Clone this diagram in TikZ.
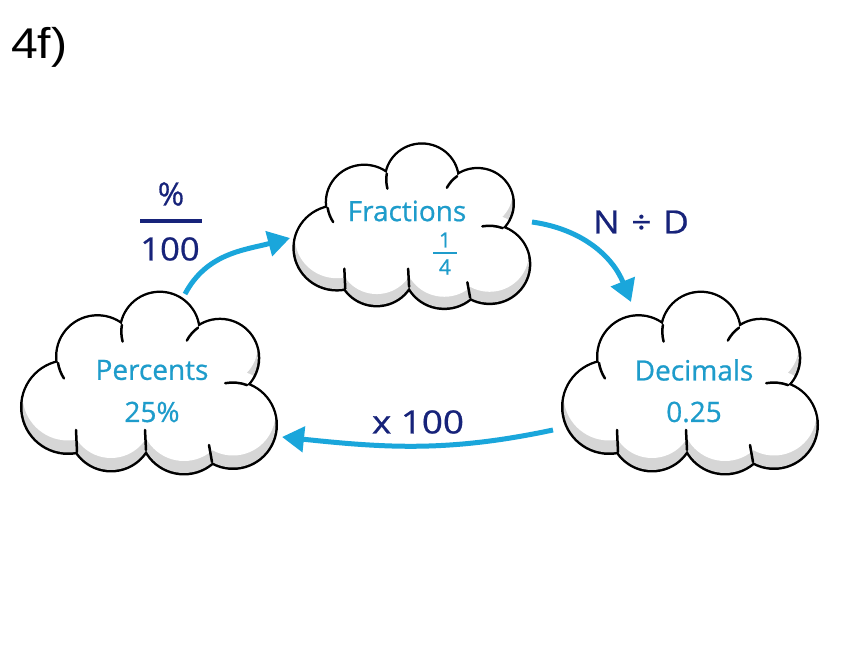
\documentclass[tikz,border=0pt]{standalone}
\usepackage{fontspec}
\setmainfont{Open Sans}
\newfontfamily\heavyfont[FakeBold=0.7]{Open Sans}
\newfontfamily\titlefont{Liberation Sans}
\usetikzlibrary{arrows.meta}
\definecolor{cyantext}{HTML}{1E9CCB}
\definecolor{arrowcyan}{HTML}{1AA6DB}
\definecolor{navy}{HTML}{17237A}
\definecolor{cloudgray}{HTML}{D6D6D6}
\def\cloudcircles{(-79,-22) circle[radius=45.5] (-36,-44) circle[radius=41] (37,-45) circle[radius=43] (86,-40) circle[radius=42.5] (73,27) circle[radius=37.8] (12.8,53.4) circle[radius=38.5] (-49.5,28.4) circle[radius=40]}
\def\cloudunion{\cloudcircles (-89,22) -- (-70,-67) -- (-1,-65) -- (65,-77) -- (100,0) -- (51,57) -- (-25,60) -- cycle}
\newcommand{\drawcloud}[4]{%
  \begin{scope}[shift={(#1,#2)},xscale=#3,yscale=#4]
    \draw[black,line width=5pt] \cloudcircles;
    \fill[cloudgray] \cloudunion;
    \begin{scope}
      \clip \cloudunion;
      \fill[white,yshift=12] \cloudunion;
    \end{scope}
    \draw[cloudline] (-89,22.1) arc[start angle=189,end angle=213,radius=40];
    \draw[cloudline] (-25.1,60.1) arc[start angle=170,end angle=195,radius=38.5];
    \draw[cloudline] (51,57.3) arc[start angle=126,end angle=152,radius=37.8];
    \draw[cloudline] (100.1,-0.1) arc[start angle=70,end angle=100,radius=42.4];
    \draw[cloudline] (65,-77) .. controls (64,-69) .. (62,-60);
    \draw[cloudline] (-1,-65) .. controls (-1,-55) .. (-2,-45);
    \draw[cloudline] (-70,-67) .. controls (-70,-56) .. (-71,-45);
  \end{scope}}
\tikzset{
  cloudline/.style={line width=2.5pt,black,line cap=round},
  cloudtext/.style={text=cyantext,font=\heavyfont\fontsize{28}{30}\selectfont,inner sep=0pt},
  smalltext/.style={text=cyantext,font=\heavyfont\fontsize{21}{22}\selectfont,inner sep=0pt},
  labeltext/.style={text=navy,font=\heavyfont\fontsize{32}{34}\selectfont,inner sep=0pt},
  conv/.style={line width=5pt,arrowcyan,-{Triangle[length=22pt,width=25pt]}},
}
\begin{document}
\begin{tikzpicture}[x=1pt,y=1pt]
\fill[white] (0,0) rectangle (848,660);
\useasboundingbox (0,0) rectangle (848,660);
% title
\node[anchor=west,inner sep=0pt,font=\titlefont\fontsize{43}{46}\selectfont] (title) at (11,613) {\scalebox{1.12}[1]{4f)}};
% clouds
\drawcloud{147}{275}{1}{1}
\drawcloud{688}{275}{1}{1}
\drawcloud{410}{432}{0.925}{0.905}
% cloud texts
\node[cloudtext] (fractions) at (407,449) {Fractions};
\node[smalltext] (fnum) at (445,420) {1};
\node[smalltext] (fden) at (445,393) {4};
\draw[cyantext,line width=1.3pt] (433,407) -- (457,407);
\node[cloudtext] (percents) at (152,290) {Percents};
\node[cloudtext] (pval) at (152,248) {25\%};
\node[cloudtext] (decimals) at (694,290) {Decimals};
\node[cloudtext] (dval) at (694,248) {0.25};
% labels
\node[labeltext] (pct) at (171,466) {\%};
\draw[navy,line width=4pt] (140,439) -- (202,439);
\node[labeltext] (hundred) at (170,411) {\scalebox{1.08}[1]{100}};
\node[labeltext] (ndiv) at (641,438) {\scalebox{1.1}[1]{N\,\,÷\,\,D}};
\node[labeltext] (times) at (418,238) {\scalebox{1.15}[1]{x 100}};
% arrows
\coordinate (pOut) at (185,366);
\coordinate (fIn) at (290,422);
\coordinate (fOut) at (532,438);
\coordinate (dIn) at (631,358);
\coordinate (dOut) at (553,230);
\coordinate (pIn) at (282,223);
\draw[conv] (pOut) to[out=62,in=195] (fIn);
\draw[conv] (fOut) to[out=-8,in=112] (dIn);
\draw[conv] (dOut) to[out=192,in=-6] (pIn);
\end{tikzpicture}
\end{document}
